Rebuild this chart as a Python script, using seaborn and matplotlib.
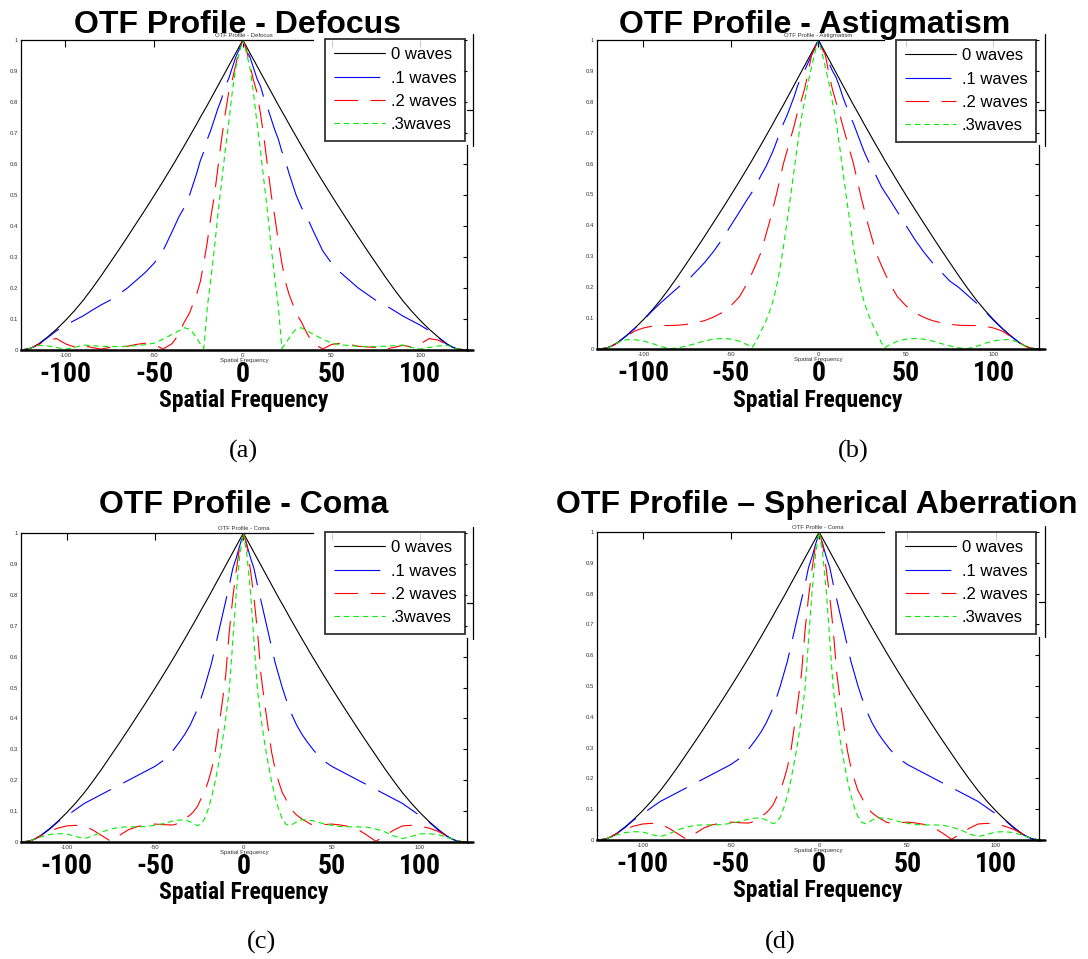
import numpy as np
import pandas as pd
import seaborn as sns
import matplotlib.pyplot as plt
from matplotlib import font_manager
from matplotlib.ticker import FuncFormatter

# half profile (f >= 0), curves are symmetric about f = 0
freq_half = [0, 2, 4, 6, 8, 10, 12, 14, 16, 18, 20, 22, 24, 26, 28, 30, 33, 36, 38, 40,
             45, 50, 55, 60, 65, 70, 75, 80, 85, 90, 95, 100, 105, 110, 115, 118, 121, 126]

# 0 waves (diffraction limited), same in every panel
otf_0 = [1, .979, .958, .937, .916, .895, .874, .853, .832, .811, .79, .77, .75, .729, .709, .689,
         .659, .63, .61, .591, .544, .498, .453, .409, .365, .322, .28, .238, .198, .16,
         .126, .095, .067, .042, .02, .01, .003, 0]

# (a) defocus
defocus_1 = [1, .97, .945, .91, .875, .85, .81, .78, .745, .71, .68, .64, .61, .57, .535, .50,
             .46, .43, .405, .38, .32, .28, .25, .225, .20, .18, .16, .145, .128, .11,
             .095, .08, .062, .04, .018, .009, .003, 0]
defocus_2 = [1, .97, .92, .87, .83, .76, .68, .59, .50, .43, .35, .28, .22, .18, .15, .12,
             .09, .055, .035, .02, .003, .018, .022, .018, .012, .01, .008, .003, .008, .015,
             .01, .02, .037, .032, .018, .01, .003, 0]
defocus_3 = [1, .96, .91, .83, .73, .64, .54, .44, .33, .23, .14, .005, .02, .038, .055, .067,
             .072, .062, .056, .05, .035, .022, .017, .014, .012, .011, .011, .012, .014, .016,
             .008, .003, .008, .013, .015, .01, .003, 0]

# (b) astigmatism
astig_1 = [1, .975, .95, .925, .90, .88, .85, .815, .785, .755, .73, .70, .67, .64, .615, .59,
           .56, .525, .507, .49, .445, .40, .355, .315, .28, .25, .22, .20, .175, .15,
           .123, .093, .066, .041, .019, .01, .003, 0]
astig_2 = [1, .975, .95, .89, .84, .80, .765, .72, .68, .64, .60, .55, .50, .455, .41, .37,
           .31, .27, .245, .22, .17, .14, .118, .103, .092, .085, .08, .077, .076, .076,
           .074, .068, .058, .04, .019, .01, .003, 0]
astig_3 = [1, .96, .91, .86, .80, .74, .66, .575, .49, .41, .33, .26, .20, .155, .12, .09,
           .055, .02, .004, .012, .025, .032, .034, .032, .026, .018, .01, .004, .001, .008,
           .018, .026, .03, .03, .02, .01, .003, 0]

# (c) coma
coma_1 = [1, .96, .92, .885, .83, .78, .73, .68, .63, .58, .54, .50, .465, .43, .405, .38,
          .35, .325, .31, .295, .265, .245, .23, .215, .20, .185, .17, .155, .14, .125,
          .105, .085, .065, .04, .019, .01, .003, 0]
coma_2 = [1, .96, .88, .79, .68, .54, .45, .37, .29, .235, .195, .16, .14, .115, .10, .088,
          .075, .065, .058, .055, .056, .058, .055, .05, .04, .022, .002, .02, .038, .052,
          .054, .052, .045, .035, .02, .01, .003, 0]
coma_3 = [1, .93, .81, .65, .49, .40, .32, .255, .195, .145, .105, .075, .058, .053, .058, .065,
          .072, .071, .07, .068, .06, .054, .05, .049, .049, .048, .042, .033, .02, .011,
          .018, .026, .027, .024, .016, .01, .003, 0]

# (d) spherical aberration - the plotted curves are the same as in (c)
sph_1 = list(coma_1)
sph_2 = list(coma_2)
sph_3 = list(coma_3)

series_names = ['0 waves', '.1 waves', '.2 waves', '.3waves']
big_titles = ['OTF Profile - Defocus', 'OTF Profile - Astigmatism',
              'OTF Profile - Coma', 'OTF Profile \u2013 Spherical Aberration']
small_titles = ['OTF Profile - Defocus', 'OTF Profile - Astigmatism',
                'OTF Profile - Coma', 'OTF Profile - Coma']
captions = ['(a)', '(b)', '(c)', '(d)']
x_ticks = [-100, -50, 0, 50, 100]
x_tick_labels = ['-100', '-50', '0', '50', '100']

panel_data = [(defocus_1, defocus_2, defocus_3),
              (astig_1, astig_2, astig_3),
              (coma_1, coma_2, coma_3),
              (sph_1, sph_2, sph_3)]

# ---- layout (pixels of the 1088x959 picture) ----
W, H = 1088, 959
axes_px = [(21, 40, 467, 350), (597, 40, 1039, 349), (21, 533, 467, 842), (597, 532, 1039, 840)]
xlims = [(-125, 126.3), (-126.5, 126), (-125.9, 126.6), (-125.8, 124.5)]
legend_px = [(465, 39), (1036, 40), (465, 532), (1036, 532)]
title_px = [(237, 33), (815, 33), (244, 513), (817, 513)]
caption_px = [(243, 451), (853, 451), (262, 942), (780, 942)]

colors = {'0 waves': 'black', '.1 waves': '#0000ff', '.2 waves': '#ff0000', '.3waves': '#00ee00'}
dashes = {'0 waves': '', '.1 waves': (33, 10), '.2 waves': (17, 9), '.3waves': (4, 2.8)}

sns.set_style('white')
plt.rcParams['font.family'] = ['Liberation Sans', 'DejaVu Sans']
plt.rcParams['lines.scale_dashes'] = False
plt.rcParams['axes.unicode_minus'] = False
plt.rcParams['text.color'] = 'black'
plt.rcParams['axes.labelcolor'] = 'black'

names = {f.name for f in font_manager.fontManager.ttflist}
narrow = dict(family='DejaVu Sans', stretch='condensed', weight='bold')
for cand in ['Liberation Sans Narrow', 'Roboto Condensed', 'Open Sans Condensed']:
    if cand in names:
        narrow = dict(family=cand, weight='bold')
        break

fig = plt.figure(figsize=(W / 100, H / 100), dpi=100)

def fx(px):
    return px / W

def fy(py):
    return 1 - py / H

for i in range(4):
    x0, y0, x1, y1 = axes_px[i]
    ax = fig.add_axes([fx(x0), fy(y1), (x1 - x0) / W, (y1 - y0) / H])

    rows = []
    for name, vals in zip(series_names, (otf_0,) + panel_data[i]):
        xs = [-f for f in freq_half[::-1]] + freq_half[1:]
        ys = vals[::-1] + vals[1:]
        for f, v in zip(xs, ys):
            rows.append((name, f, v))
    df = pd.DataFrame(rows, columns=['series', 'freq', 'otf'])

    sns.lineplot(data=df, x='freq', y='otf', hue='series', style='series',
                 hue_order=series_names, style_order=series_names,
                 palette=colors, dashes=dashes, estimator=None, sort=False,
                 linewidth=0.8, legend=False, ax=ax)
    handles = ax.get_lines()[:4]

    ax.set_xlim(*xlims[i])
    ax.set_ylim(0, 1)
    ax.set_xticks(x_ticks)
    ax.set_yticks(np.arange(0, 1.01, 0.1))
    ax.yaxis.set_major_formatter(FuncFormatter(lambda v, p: '%g' % round(v, 1)))
    ax.tick_params(axis='both', direction='in', length=3, width=0.8, labelsize=4.3,
                   pad=2, colors='black', top=True, right=True, labelcolor='#333333')
    ax.tick_params(axis='x', length=5)
    ax.set_xlabel('Spatial Frequency', fontsize=4.3, labelpad=0.5, color='#333333')
    ax.set_ylabel('')
    ax.set_title(small_titles[i], fontsize=4.3, pad=2, color='#333333')
    for s in ax.spines.values():
        s.set_color('black')
        s.set_linewidth(0.9)
    ax.spines['bottom'].set_linewidth(1.8)

    # legend box, upper right, MATLAB style
    lx, ly = legend_px[i]
    leg = ax.legend(handles, series_names, loc='upper right',
                    bbox_to_anchor=(fx(lx), fy(ly)), bbox_transform=fig.transFigure,
                    borderaxespad=0, fontsize=12, frameon=True, fancybox=False,
                    handlelength=3.05, handletextpad=0.38, borderpad=0.5,
                    labelspacing=0.5)
    leg.get_frame().set_edgecolor('black')
    leg.get_frame().set_linewidth(1.3)
    for t in leg.get_texts():
        t.set_color('black')

    # spines broken where the legend sits, plus the stray frame pieces
    xa, xb = xlims[i]
    top_end = xa + (lx - 152 - x0) / (x1 - x0) * (xb - xa)
    ax.spines['top'].set_bounds(xa, top_end)
    ax.spines['right'].set_bounds(0, 0.66)
    art = dict(transform=ax.transAxes, clip_on=False, color='black', lw=0.9)
    ax.plot([1.0135, 1.0135], [0.658, 1.02], **art)
    ax.plot([1.0, 1.0135], [0.774, 0.774], **art)
    ax.plot([1.0, 1.0135], [0, 0], transform=ax.transAxes, clip_on=False,
            color='black', lw=1.8)

    # big overlaid axis labels
    sec = ax.secondary_xaxis('bottom')
    sec.set_xticks(x_ticks, labels=x_tick_labels, fontsize=20, **narrow)
    sec.tick_params(axis='x', length=0, pad=8, colors='black')
    sec.spines['bottom'].set_visible(False)
    sec.set_xlabel('Spatial Frequency', fontsize=17, labelpad=1, **narrow)

    tx, ty = title_px[i]
    fig.text(fx(tx), fy(ty), big_titles[i], ha='center', va='baseline', color='black',
             fontsize=23, fontweight='bold', family='Liberation Sans')
    cx, cy = caption_px[i]
    fig.text(fx(cx), fy(cy), captions[i], ha='center', va='center', color='black',
             fontsize=19, family='Liberation Serif')

fig.savefig('out.png', dpi=100)
